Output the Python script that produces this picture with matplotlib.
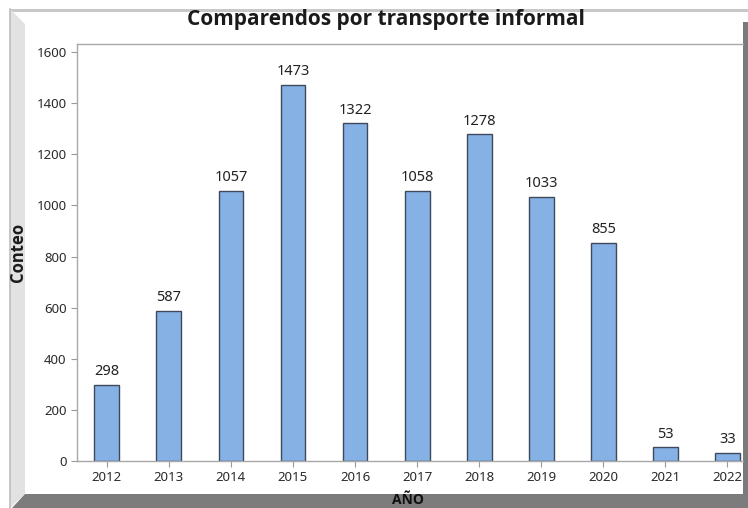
import matplotlib
matplotlib.use("Agg")
import matplotlib.pyplot as plt
from matplotlib.patches import Polygon

plt.rcParams['font.family'] = ['Noto Sans', 'DejaVu Sans']

years = [2012, 2013, 2014, 2015, 2016, 2017, 2018, 2019, 2020, 2021, 2022]
counts = [298, 587, 1057, 1473, 1322, 1058, 1278, 1033, 855, 53, 33]
yticks = [0, 200, 400, 600, 800, 1000, 1200, 1400, 1600]

W, H = 748, 508
fig = plt.figure(figsize=(W / 100, H / 100), dpi=100)
fig.patch.set_facecolor('white')

# window frame drawn in pixel coordinates
frame = fig.add_axes([0, 0, 1, 1], zorder=0)
frame.set_xlim(0, W)
frame.set_ylim(H, 0)
frame.axis('off')
# top edge
frame.add_patch(Polygon([(10, 9), (748, 9), (748, 12), (12, 12)], closed=True,
                        facecolor='#c8c8c8', edgecolor='none'))
# left bevel
frame.add_patch(Polygon([(10, 9), (25, 24), (25, 494), (10, 508)], closed=True,
                        facecolor='#e2e2e2', edgecolor='none'))
frame.plot([10, 10], [9, 508], color='#bdbdbd', lw=1.2)
# right edge
frame.add_patch(Polygon([(743, 22), (748, 22), (748, 508), (743, 508)], closed=True,
                        facecolor='#7a7a7a', edgecolor='none'))
# bottom band
frame.add_patch(Polygon([(25, 494), (748, 494), (748, 508), (12, 508)], closed=True,
                        facecolor='#7c7c7c', edgecolor='none'))

ax = fig.add_axes([77 / W, (H - 461) / H, (743 - 77) / W, (461 - 44) / H], zorder=1)
ax.set_facecolor('white')
bars = ax.bar(years, counts, width=0.4, color='#86b1e5', edgecolor='#3e4a5c', linewidth=1.0)
for x, v in zip(years, counts):
    ax.annotate(str(v), (x, v), xytext=(0, 4), textcoords='offset points',
                ha='center', va='bottom', fontsize=10.5, color='#222222')

ax.set_xlim(2011.52, 2022.25)
ax.set_ylim(0, 1632)
ax.set_xticks(years)
ax.set_xticklabels([str(y) for y in years])
ax.set_yticks(yticks)
ax.tick_params(axis='both', labelsize=9.5, colors='#9a9a9a', labelcolor='#2a2a2a',
               length=4, width=0.8, direction='out')
for side in ['left', 'top', 'bottom']:
    ax.spines[side].set_color('#a8a8a8')
    ax.spines[side].set_linewidth(1.0)
ax.spines['right'].set_visible(False)

bold = ['Open Sans', 'DejaVu Sans']
fig.text(386 / W, 1 - 19 / H, 'Comparendos por transporte informal', ha='center', va='center',
         fontsize=15, fontweight='bold', family=bold, color='#1a1a1a')
fig.text(18 / W, 1 - 252 / H, 'Conteo', ha='center', va='center', rotation=90,
         fontsize=12, fontweight='bold', family=bold, color='#1a1a1a')
fig.text(408 / W, 1 - 500 / H, 'AÑO', ha='center', va='center',
         fontsize=10, fontweight='bold', family=bold, color='#111111')

fig.savefig('out.png', dpi=100)
